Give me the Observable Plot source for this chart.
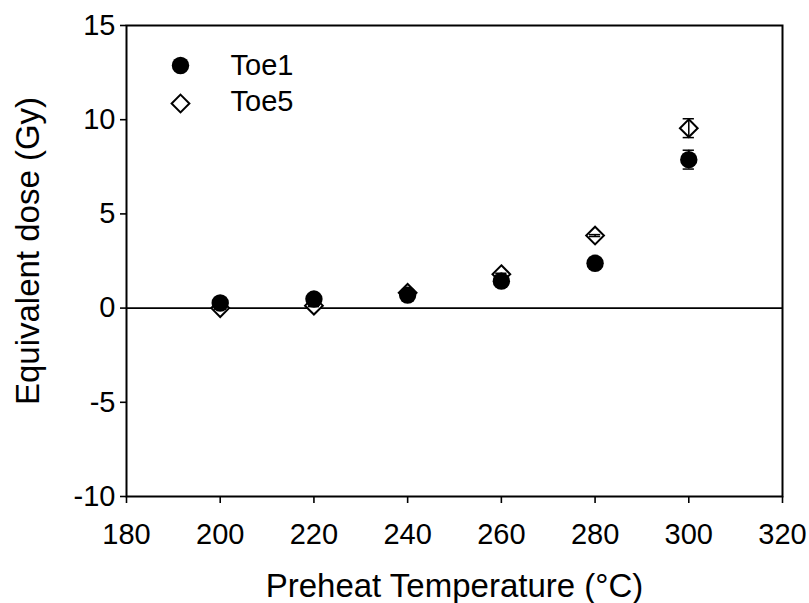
<!DOCTYPE html>
<html>
<head>
<meta charset="utf-8">
<script src="https://cdn.jsdelivr.net/npm/d3@7"></script>
<script src="https://cdn.jsdelivr.net/npm/@observablehq/plot@0.6"></script>
<style>
  html, body { margin: 0; padding: 0; background: #fff; }
  #chart svg { display: block; }
</style>
</head>
<body>
<div id="chart"></div>
<script>
// Data
const temps = [200, 220, 240, 260, 280, 300];
const toe1 = [0.27, 0.48, 0.69, 1.43, 2.38, 7.88];
const toe1Err = [0.15, 0.2, 0.15, 0.2, 0.3, 0.5];
const toe5 = [0.0, 0.13, 0.81, 1.8, 3.85, 9.55];
const toe5Err = [0.05, 0.05, 0.05, 0.05, 0.05, 0.5];
const seriesNames = ["Toe1", "Toe5"];
const xTicks = [180, 200, 220, 240, 260, 280, 300, 320];
const yTicks = [-10, -5, 0, 5, 10, 15];
const xTitle = "Preheat Temperature (°C)";
const yTitle = "Equivalent dose (Gy)";

const d1 = temps.map((t, i) => ({temp: t, v: toe1[i], e: toe1Err[i]}));
const d5 = temps.map((t, i) => ({temp: t, v: toe5[i], e: toe5Err[i]}));

const capHalf = 1.2; // in x data units (~5.5px)
const font = "Arial, 'Liberation Sans', sans-serif";

const chart = Plot.plot({
  width: 809,
  height: 603,
  marginLeft: 126,
  marginRight: 27,
  marginTop: 25,
  marginBottom: 107,
  style: {fontFamily: font, background: "#fff", color: "#000"},
  x: {domain: [180, 320], ticks: xTicks},
  y: {domain: [-10, 15], ticks: yTicks},
  marks: [
    Plot.ruleY([0], {stroke: "#000", strokeWidth: 1.6}),
    Plot.axisX({ticks: xTicks, tickSize: 7, tickPadding: 20, fontSize: 29, tickFormat: d => String(d), label: null, strokeWidth: 1.6}),
    Plot.axisY({ticks: yTicks, tickSize: 6, tickPadding: 5, fontSize: 29, tickFormat: d => String(d), label: null, strokeWidth: 1.6}),
    Plot.frame({stroke: "#000", strokeWidth: 2}),
    // Toe5 diamonds
    Plot.dot(d5, {x: "temp", y: "v", symbol: "diamond2", r: 8, fill: "#fff", stroke: "#000", strokeWidth: 2}),
    // Toe5 error bars
    Plot.ruleX(d5, {x: "temp", y1: d => d.v - d.e, y2: d => d.v + d.e, stroke: "#000", strokeWidth: 1.5}),
    Plot.ruleY(d5, {y: d => d.v + d.e, x1: d => d.temp - capHalf, x2: d => d.temp + capHalf, stroke: "#000", strokeWidth: 1.5}),
    Plot.ruleY(d5, {y: d => d.v - d.e, x1: d => d.temp - capHalf, x2: d => d.temp + capHalf, stroke: "#000", strokeWidth: 1.5}),
    // Toe1 error bars
    Plot.ruleX(d1, {x: "temp", y1: d => d.v - d.e, y2: d => d.v + d.e, stroke: "#000", strokeWidth: 1.5}),
    Plot.ruleY(d1, {y: d => d.v + d.e, x1: d => d.temp - capHalf, x2: d => d.temp + capHalf, stroke: "#000", strokeWidth: 1.5}),
    Plot.ruleY(d1, {y: d => d.v - d.e, x1: d => d.temp - capHalf, x2: d => d.temp + capHalf, stroke: "#000", strokeWidth: 1.5}),
    // Toe1 circles
    Plot.dot(d1, {x: "temp", y: "v", r: 8.7, fill: "#000", stroke: "none"}),
    // Legend
    Plot.dot([seriesNames[0]], {frameAnchor: "top-left", dx: 54, dy: 40, r: 8.7, fill: "#000"}),
    Plot.dot([seriesNames[1]], {frameAnchor: "top-left", dx: 54, dy: 78, r: 8, symbol: "diamond2", fill: "#fff", stroke: "#000", strokeWidth: 2}),
    Plot.text([seriesNames[0]], {text: d => d, frameAnchor: "top-left", dx: 104, dy: 40, textAnchor: "start", lineAnchor: "middle", fontSize: 29, fill: "#000"}),
    Plot.text([seriesNames[1]], {text: d => d, frameAnchor: "top-left", dx: 104, dy: 76, textAnchor: "start", lineAnchor: "middle", fontSize: 29, fill: "#000"}),
    // Axis titles
    Plot.text([xTitle], {text: d => d, frameAnchor: "bottom", dy: 100, lineAnchor: "bottom", fontSize: 33, fill: "#000"}),
    Plot.text([yTitle], {text: d => d, frameAnchor: "left", dx: -98, dy: -10, rotate: -90, lineAnchor: "middle", textAnchor: "middle", fontSize: 33, fill: "#000"})
  ]
});
document.getElementById("chart").appendChild(chart);
</script>
</body>
</html>
